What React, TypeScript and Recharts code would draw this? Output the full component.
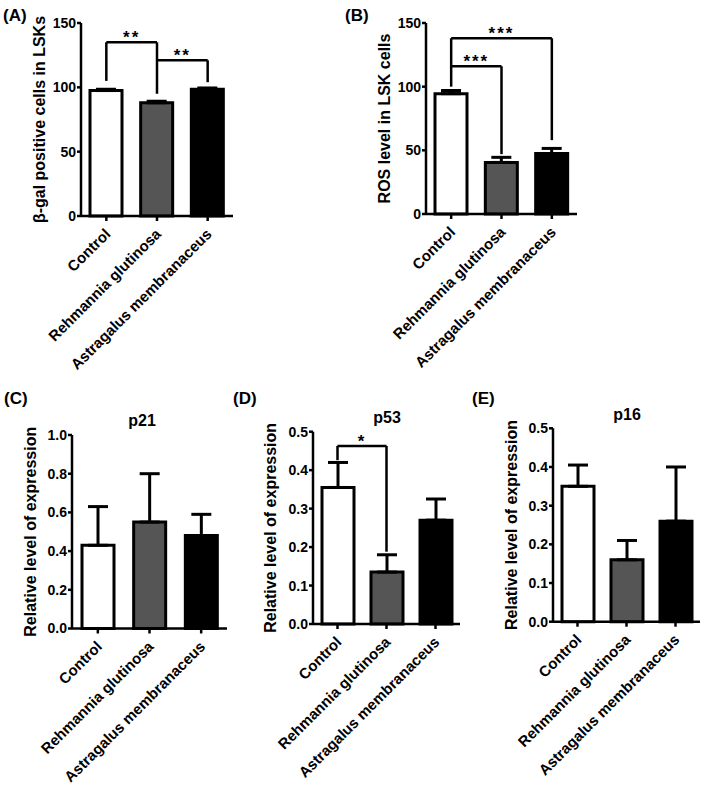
import { Bar, BarChart, Cell, ErrorBar, ReferenceLine, XAxis, YAxis } from "recharts";

const W = 709;
const H = 786;
const FONT = "'Liberation Sans', Arial, sans-serif";
const FILLS = ["#ffffff", "#555555", "#000000"];
const YW = 60;
const XH = 150;

const groups = ["Control", "Rehmannia glutinosa", "Astragalus membranaceus"];

// panel A / B
const betaGal = [97.5, 88, 98.5];
const betaGalSem = [1, 1.2, 1];
const ros = [94.5, 40.5, 47.5];
const rosSem = [2.5, 4, 4];
// panel C / D / E
const p21 = [0.43, 0.55, 0.48];
const p21Sem = [0.2, 0.25, 0.11];
const p53 = [0.355, 0.135, 0.27];
const p53Sem = [0.065, 0.045, 0.055];
const p16 = [0.35, 0.16, 0.26];
const p16Sem = [0.055, 0.05, 0.14];

const ticks150 = [0, 50, 100, 150];
const ticksOne = [0, 0.2, 0.4, 0.6, 0.8, 1.0];
const ticksHalf = [0, 0.1, 0.2, 0.3, 0.4, 0.5];

// significance brackets: a/b = group index, y = bar height, ya/yb = leg ends
type Bracket = { a: number; b: number; y: number; ya: number | null; yb: number; stars: string };
const bracketsA: Bracket[] = [
  { a: 0, b: 1, y: 135, ya: 105, yb: 95, stars: "**" },
  { a: 1, b: 2, y: 121, ya: null, yb: 104, stars: "**" },
];
const bracketsB: Bracket[] = [
  { a: 0, b: 2, y: 138, ya: 100, yb: 58, stars: "***" },
  { a: 0, b: 1, y: 116, ya: null, yb: 47, stars: "***" },
];
const bracketsD: Bracket[] = [{ a: 0, b: 1, y: 0.463, ya: 0.426, yb: 0.188, stars: "*" }];

const txt = { fontFamily: FONT, fontWeight: "bold" as const, fill: "#000" };

function GroupTick({ x, y, payload }: any) {
  const tx = x + 5;
  const ty = y + 12;
  return (
    <text x={tx} y={ty} transform={`rotate(-45 ${tx} ${ty})`} textAnchor="end" fontSize={15} {...txt}>
      {payload.value}
    </text>
  );
}

const yTitle = (title: string) => (p: any) => {
  const vb = p.viewBox;
  const cx = vb.x + vb.width - 42;
  const cy = vb.y + vb.height / 2;
  return (
    <text x={cx} y={cy} transform={`rotate(-90 ${cx} ${cy})`} textAnchor="middle" dominantBaseline="central" fontSize={16} {...txt}>
      {title}
    </text>
  );
};

const starLabel = (s: string) => (p: any) => {
  const vb = p.viewBox;
  return (
    <text x={vb.x + vb.width / 2} y={vb.y + 1} textAnchor="middle" fontSize={17} letterSpacing={2} {...txt}>
      {s}
    </text>
  );
};

type Plot = { x0: number; x1: number; y0: number; y1: number };

function Panel({
  plot,
  values,
  sem,
  ticks,
  decimals,
  title,
  brackets = [],
}: {
  plot: Plot;
  values: number[];
  sem: number[];
  ticks: number[];
  decimals: number;
  title: string;
  brackets?: Bracket[];
}) {
  const data = groups.map((g, i) => ({ name: g, value: values[i], err: [0, sem[i]] }));
  const margin = { left: plot.x0 - YW, right: W - plot.x1, top: plot.y0, bottom: H - plot.y1 - XH };
  const line = { stroke: "#000", strokeWidth: 2.5 };
  return (
    <div style={{ position: "absolute", left: 0, top: 0 }}>
      <BarChart width={W} height={H} data={data} margin={margin} barSize={32}>
        <XAxis
          dataKey="name"
          height={XH}
          interval={0}
          tick={<GroupTick />}
          tickSize={5}
          tickMargin={2}
          axisLine={line}
          tickLine={line}
        />
        <YAxis
          width={YW}
          domain={[ticks[0], ticks[ticks.length - 1]]}
          ticks={ticks}
          tickFormatter={(v) => Number(v).toFixed(decimals)}
          tick={{ fontSize: 14, ...txt }}
          tickSize={4}
          tickMargin={1}
          axisLine={line}
          tickLine={line}
          label={{ value: title, content: yTitle(title) }}
        />
        <Bar dataKey="value" stroke="#000" strokeWidth={3} isAnimationActive={false}>
          {data.map((_, i) => (
            <Cell key={i} fill={FILLS[i]} />
          ))}
          <ErrorBar dataKey="err" direction="y" width={10} stroke="#000" strokeWidth={3} isAnimationActive={false} />
        </Bar>
        {brackets.flatMap((b, i) => {
          const ga = groups[b.a];
          const gb = groups[b.b];
          const out = [
            <ReferenceLine
              key={`h${i}`}
              segment={[{ x: ga, y: b.y }, { x: gb, y: b.y }]}
              {...line}
              label={{ value: b.stars, content: starLabel(b.stars) }}
            />,
            <ReferenceLine key={`r${i}`} segment={[{ x: gb, y: b.y }, { x: gb, y: b.yb }]} {...line} />,
          ];
          if (b.ya !== null) {
            out.push(<ReferenceLine key={`l${i}`} segment={[{ x: ga, y: b.ya }, { x: ga, y: b.y }]} {...line} />);
          }
          return out;
        })}
      </BarChart>
    </div>
  );
}

export default function App() {
  return (
    <div style={{ position: "absolute", left: 0, top: 0, width: W, height: H, background: "#fff" }}>
      <Panel
        plot={{ x0: 81, x1: 233, y0: 23, y1: 216 }}
        values={betaGal}
        sem={betaGalSem}
        ticks={ticks150}
        decimals={0}
        title="β-gal positive cells in LSKs"
        brackets={bracketsA}
      />
      <Panel
        plot={{ x0: 426, x1: 577, y0: 23, y1: 214 }}
        values={ros}
        sem={rosSem}
        ticks={ticks150}
        decimals={0}
        title="ROS level in LSK cells"
        brackets={bracketsB}
      />
      <Panel
        plot={{ x0: 72, x1: 227, y0: 435, y1: 628.5 }}
        values={p21}
        sem={p21Sem}
        ticks={ticksOne}
        decimals={1}
        title="Relative level of expression"
      />
      <Panel
        plot={{ x0: 313, x1: 460, y0: 431.7, y1: 624 }}
        values={p53}
        sem={p53Sem}
        ticks={ticksHalf}
        decimals={1}
        title="Relative level of expression"
        brackets={bracketsD}
      />
      <Panel
        plot={{ x0: 553, x1: 700, y0: 428.3, y1: 621.7 }}
        values={p16}
        sem={p16Sem}
        ticks={ticksHalf}
        decimals={1}
        title="Relative level of expression"
      />
      <svg width={W} height={H} style={{ position: "absolute", left: 0, top: 0, pointerEvents: "none" }}>
        <text x={3} y={21} fontSize={17} {...txt}>(A)</text>
        <text x={345} y={21} fontSize={17} {...txt}>(B)</text>
        <text x={4} y={404} fontSize={17} {...txt}>(C)</text>
        <text x={233} y={404} fontSize={17} {...txt}>(D)</text>
        <text x={472} y={404} fontSize={17} {...txt}>(E)</text>
        <text x={142} y={426} textAnchor="middle" fontSize={16} {...txt}>p21</text>
        <text x={387} y={423} textAnchor="middle" fontSize={16} {...txt}>p53</text>
        <text x={627} y={420} textAnchor="middle" fontSize={16} {...txt}>p16</text>
      </svg>
    </div>
  );
}
